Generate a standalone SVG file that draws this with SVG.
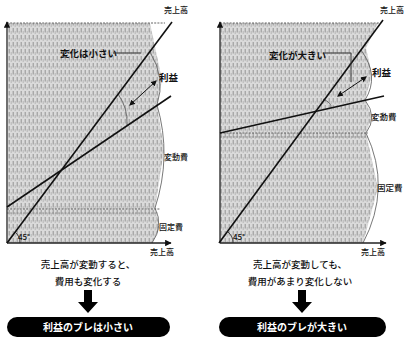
<svg xmlns="http://www.w3.org/2000/svg" width="404" height="338" viewBox="0 0 404 338">
<style>
text{font-family:"Noto Sans CJK JP","Noto Sans",sans-serif;fill:#111}
.lbl{font-size:8px;font-weight:500}
.lblr{font-size:8.5px;font-weight:500}
.big{font-size:9.5px;font-weight:bold}
.cap{font-size:9.5px;text-anchor:middle;font-weight:500}
.pill{font-size:10px;fill:#fff;text-anchor:middle;font-weight:bold}
.ax{stroke:#222;stroke-width:1.3;fill:none}
.ln{stroke:#111;stroke-width:1.6;fill:none}
.dash{stroke:#555;stroke-width:0.9;stroke-dasharray:2 1.2;fill:none}
.brace{stroke:#555;stroke-width:0.8;fill:none}
.lead{stroke:#333;stroke-width:1;fill:none}
</style>
<defs>
<pattern id="tex" width="4" height="7" patternUnits="userSpaceOnUse">
<rect width="4" height="7" fill="#dadada"/>
<line x1="1.2" y1="0" x2="1.2" y2="4.5" stroke="#8a8a8a" stroke-width="0.9"/>
<line x1="3.2" y1="3" x2="3.2" y2="6" stroke="#a5a5a5" stroke-width="0.7"/>
</pattern>
<marker id="ah" viewBox="0 0 10 10" refX="9" refY="5" markerWidth="5" markerHeight="5" orient="auto"><path d="M0,0 L10,5 L0,10 z" fill="#111"/></marker>
<marker id="tri" viewBox="0 0 10 10" refX="8" refY="5" markerWidth="6" markerHeight="6" orient="auto-start-reverse"><path d="M0,0 L10,5 L0,10 z" fill="#111"/></marker>
</defs>

<g id="left-chart">
<path d="M8,23 L150,23 L162,80 L157,105 L164,150 L155,208 L160,228 L152,243 L8,243 Z" fill="url(#tex)"/>
<line class="dash" x1="7" y1="23" x2="165" y2="23"/>
<line class="dash" x1="7" y1="209" x2="160" y2="209"/>
<line class="dash" x1="7" y1="213" x2="158" y2="213" style="stroke:#888"/>
<path class="brace" d="M150,52 Q166,78 157,105"/>
<path class="brace" d="M157,105 Q172,156 155,208"/>
<path class="brace" d="M155,208 Q164,226 152,243"/>
<path class="brace" d="M118,94 Q128,108 127,125"/>
<line class="ax" x1="7" y1="243" x2="7" y2="22" marker-end="url(#ah)"/>
<line class="ax" x1="7" y1="243" x2="171" y2="243" marker-end="url(#ah)"/>
<line class="ln" x1="7" y1="243" x2="172" y2="22"/>
<line class="ln" x1="7" y1="207" x2="171" y2="96"/>
<path class="brace" d="M20,243 A14,14 0 0 0 15,232" style="stroke:#222"/>
<text class="lbl" x="18" y="240">45°</text>
<text class="lbl" x="164" y="13">売上高</text>
<text class="big" x="60" y="57">変化は小さい</text>
<line class="lead" x1="113" y1="53" x2="141" y2="53"/>
<text class="big" x="159" y="81">利益</text>
<line x1="130" y1="105" x2="156" y2="81" stroke="#111" stroke-width="1" marker-start="url(#tri)" marker-end="url(#tri)"/>
<text class="lbl" x="164" y="160">変動費</text>
<text class="lbl" x="159" y="230">固定費</text>
<text class="lbl" x="150" y="255">売上高</text>
</g>

<g id="right-chart">
<path d="M220,23 L378,23 L366,48 L372,75 L365,100 L372,117 L366,133 L378,188 L363,243 L220,243 Z" fill="url(#tex)"/>
<line class="dash" x1="220" y1="23" x2="380" y2="23"/>
<line class="dash" x1="220" y1="133" x2="368" y2="133"/>
<line class="dash" x1="220" y1="137" x2="368" y2="137" style="stroke:#888"/>
<path class="brace" d="M361,50 Q380,76 365,100"/>
<path class="brace" d="M365,100 Q378,117 366,133"/>
<path class="brace" d="M366,133 Q392,188 363,243"/>
<path class="brace" d="M323,99 Q332,103 331,108"/>
<line class="ax" x1="220" y1="243" x2="220" y2="22" marker-end="url(#ah)"/>
<line class="ax" x1="220" y1="243" x2="386" y2="243" marker-end="url(#ah)"/>
<line class="ln" x1="219" y1="243" x2="383" y2="20"/>
<line class="ln" x1="220" y1="133" x2="384" y2="96"/>
<path class="brace" d="M233,243 A14,14 0 0 0 228,232" style="stroke:#222"/>
<text class="lbl" x="233" y="240">45°</text>
<text class="lbl" x="380" y="13">売上高</text>
<text class="big" x="269" y="59">変化が大きい</text>
<path class="lead" d="M323,53 L351,53 L351,82"/>
<text class="big" x="372" y="76">利益</text>
<line x1="338" y1="96" x2="366" y2="77" stroke="#111" stroke-width="1" marker-start="url(#tri)" marker-end="url(#tri)"/>
<text class="lblr" x="371" y="120">変動費</text>
<text class="lblr" x="377" y="191">固定費</text>
<text class="lbl" x="361" y="255">売上高</text>
</g>

<g id="left-result">
<text class="cap" x="88" y="268">売上高が変動すると、</text>
<text class="cap" x="88" y="285">費用も変化する</text>
<path d="M84,290 L92,290 L92,302 L98,302 L88,313 L78,302 L84,302 Z" fill="#000"/>
<rect x="7" y="317" width="163" height="20" rx="10" fill="#000"/>
<text class="pill" x="88" y="331">利益のブレは小さい</text>
</g>

<g id="right-result">
<text class="cap" x="300" y="268">売上高が変動しても、</text>
<text class="cap" x="300" y="285">費用があまり変化しない</text>
<path d="M298,290 L306,290 L306,302 L312,302 L302,313 L292,302 L298,302 Z" fill="#000"/>
<rect x="219" y="317" width="167" height="20" rx="10" fill="#000"/>
<text class="pill" x="302" y="331">利益のブレが大きい</text>
</g>
</svg>
